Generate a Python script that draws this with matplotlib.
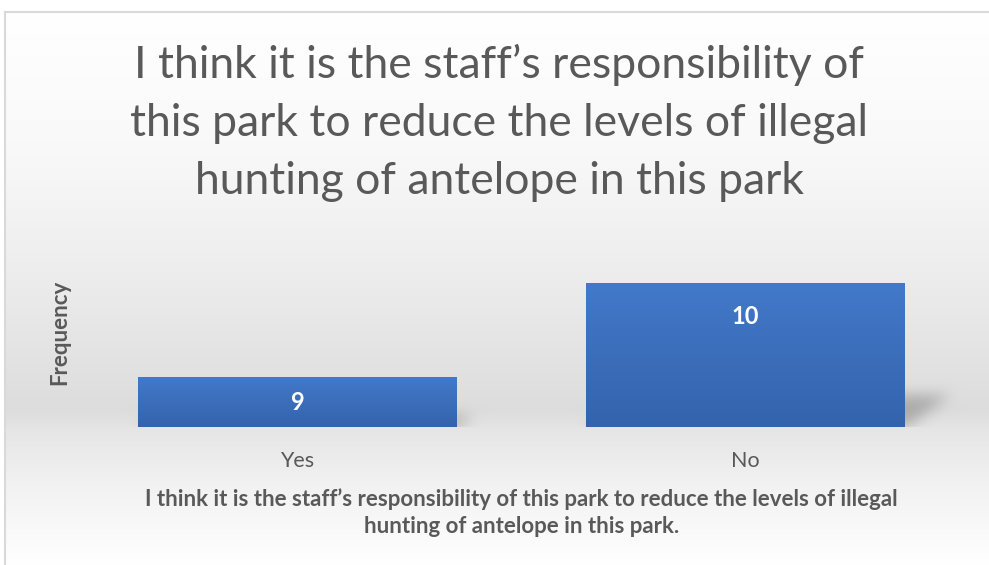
import numpy as np
import matplotlib
matplotlib.use("Agg")
import matplotlib.pyplot as plt
from matplotlib.colors import to_rgb

# survey answers
categories = ["Yes", "No"]
counts = [9, 10]
y_min, y_max = 8.47, 10.2

title = ("I think it is the staff\u2019s responsibility of\n"
         "this park to reduce the levels of illegal\n"
         "hunting of antelope in this park")
x_title = ("I think it is the staff\u2019s responsibility of this park to reduce the levels of illegal\n"
           "hunting of antelope in this park.")

W, H = 989, 565
plt.rcParams['font.family'] = ['Lato', 'DejaVu Sans']
text_grey = "#595959"

fig = plt.figure(figsize=(W / 100, H / 100), dpi=100)

# background axes covering the whole figure (pixel coords, y down)
bg = fig.add_axes([0, 0, 1, 1], zorder=0)
bg.set_xlim(0, W)
bg.set_ylim(H, 0)
bg.axis("off")

ax = fig.add_axes([73.5 / W, 1 - 427 / H, 896 / W, (427 - 265) / H], zorder=2)
ax.patch.set_alpha(0)

def gradient_bar(ax, x, top, width, bottom, c_top, c_bot):
    g = np.linspace(0, 1, 64)[:, None]
    ct, cb = np.array(to_rgb(c_top)), np.array(to_rgb(c_bot))
    img = ct[None, None, :] * (1 - g[..., None]) + cb[None, None, :] * g[..., None]
    ax.imshow(img, extent=(x - width / 2, x + width / 2, bottom, top),
              aspect="auto", origin="upper", zorder=2, interpolation="bilinear")

xs = np.arange(len(categories))
bar_w = 0.712
for x, v in zip(xs, counts):
    gradient_bar(ax, x, v, bar_w, y_min, "#4279c9", "#3463ac")

ax.set_xlim(-0.5, 1.5)
ax.set_ylim(y_min, y_max)
ax.set_xticks(xs)
ax.set_xticklabels(categories, fontsize=15.5, color=text_grey)
ax.tick_params(axis="x", length=0, pad=17)
ax.set_yticks([])
for s in ax.spines.values():
    s.set_visible(False)

# value labels: inside end, or centred if the bar is short
unit_px = ax.transData.transform((0, 1))[1] - ax.transData.transform((0, 0))[1]
for x, v in zip(xs, counts):
    ly = max(v - 33 / unit_px, (v + y_min) / 2)
    ax.text(x, ly, str(v), ha="center", va="center", color="white",
            fontsize=17, fontweight="bold")

ax.set_xlabel(x_title, fontsize=16, fontweight="bold", color=text_grey,
              labelpad=13, linespacing=1.3)
fig.text(60 / W, 1 - 332 / H, "Frequency", rotation=90, ha="center", va="center",
         fontsize=16, fontweight="bold", color=text_grey)

fig.text(0.505, 1 - 123 / H, title, ha="center", va="center", fontsize=32,
         color=text_grey, linespacing=1.52)

# background: vertical grey gradient inside the chart frame
stops_y = [12, 150, 270, 410, 430, 480, 565]
stops_v = [1.0, 0.975, 0.93, 0.865, 0.9, 0.945, 1.0]
rows = np.interp(np.arange(H), stops_y, stops_v)
bgimg = np.ones((H, W, 3))
bgimg[:, :, :] = rows[:, None, None]
bgimg[:12, :, :] = 1.0
bgimg[:, :5, :] = 1.0

# soft perspective shadow behind each bar
fig.canvas.draw()
shadow = np.zeros((H, W))
yy, xx = np.mgrid[0:H, 0:W]
for x, v in zip(xs, counts):
    (x0, yb), (x1, yt) = ax.transData.transform([(x - bar_w / 2, y_min), (x + bar_w / 2, v)])
    yb, yt = H - yb, H - yt
    h = yb - yt
    sh_h, skew = 0.23 * h, 0.32 * h
    t = (yb - yy) / max(sh_h, 1)
    inside = (t >= 0) & (t <= 1) & (xx >= x0 + skew * t) & (xx <= x1 + skew * t)
    shadow[inside] = 1.0

def blur(a, sigma):
    r = int(3 * sigma)
    k = np.exp(-0.5 * (np.arange(-r, r + 1) / sigma) ** 2)
    k /= k.sum()
    a = np.apply_along_axis(lambda m: np.convolve(m, k, mode="same"), 1, a)
    return np.apply_along_axis(lambda m: np.convolve(m, k, mode="same"), 0, a)

shadow = blur(shadow, 7) * 0.38
base_y = H - ax.transData.transform((0, y_min))[1]
shadow[int(round(base_y)):, :] = 0
bgimg = bgimg * (1 - shadow[..., None]) + 0.35 * shadow[..., None]
bg.imshow(bgimg, extent=(0, W, H, 0), aspect="auto", interpolation="bilinear")

# frame border
bg.plot([5, W + 5], [12, 12], color="#d9d9d9", lw=1.5)
bg.plot([5, 5], [12, H + 5], color="#d9d9d9", lw=1.5)

fig.savefig("out.png", dpi=100)
